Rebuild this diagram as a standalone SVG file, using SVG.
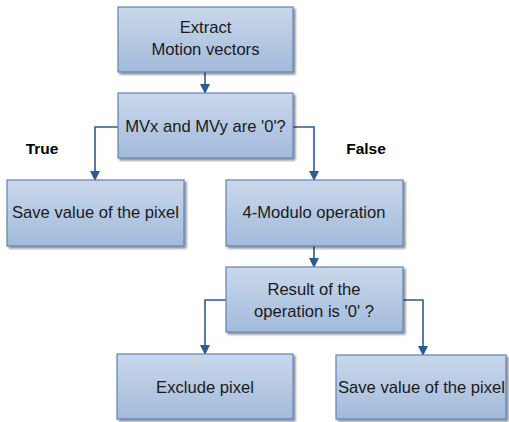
<svg xmlns="http://www.w3.org/2000/svg" width="509" height="422" viewBox="0 0 509 422">
  <defs>
    <linearGradient id="boxFill" x1="0" y1="0" x2="0" y2="1">
      <stop offset="0" stop-color="#cad8eb"/>
      <stop offset="1" stop-color="#a2badb"/>
    </linearGradient>
    <filter id="shadow" x="-10%" y="-10%" width="130%" height="130%">
      <feGaussianBlur in="SourceAlpha" stdDeviation="1"/>
      <feOffset dx="2" dy="2" result="off"/>
      <feComponentTransfer><feFuncA type="linear" slope="0.45"/></feComponentTransfer>
      <feMerge><feMergeNode/><feMergeNode in="SourceGraphic"/></feMerge>
    </filter>
    <marker id="arrow" viewBox="0 0 10 10" refX="9" refY="5" markerWidth="10" markerHeight="10" markerUnits="userSpaceOnUse" orient="auto">
      <path d="M0,0 L10,5 L0,10 z" fill="#2b5b94"/>
    </marker>
  </defs>
  <style>
    .box { fill: url(#boxFill); stroke: #5f83b5; stroke-width: 1.2; filter: url(#shadow); }
    .lbl { font-family: "Liberation Sans", Arial, sans-serif; font-size: 16.6px; fill: #1a1a1a; text-anchor: middle; }
    .side { font-family: "Liberation Sans", Arial, sans-serif; font-size: 15.5px; font-weight: bold; fill: #000; text-anchor: middle; }
    .conn { fill: none; stroke: #2b5b94; stroke-width: 1.6; marker-end: url(#arrow); }
  </style>

  <rect width="509" height="422" fill="#ffffff"/>

  <!-- connectors -->
  <g id="connectors">
    <path class="conn" d="M205,72 V93"/>
    <path class="conn" d="M118,127 H95 V180"/>
    <path class="conn" d="M293,127 H314 V180"/>
    <path class="conn" d="M314,246 V267"/>
    <path class="conn" d="M226,300 H205 V354"/>
    <path class="conn" d="M403,300 H423 V355"/>
  </g>

  <g id="extract">
    <rect class="box" x="118" y="7" width="175" height="65"/>
    <text class="lbl" x="205.5" y="33">Extract</text>
    <text class="lbl" x="205.5" y="55">Motion vectors</text>
  </g>

  <g id="check-mv">
    <rect class="box" x="118" y="93" width="175" height="65"/>
    <text class="lbl" x="205.5" y="132">MVx and MVy are '0'?</text>
  </g>

  <g id="save-left">
    <rect class="box" x="7" y="180" width="177" height="66"/>
    <text class="lbl" x="95.5" y="218">Save value of the pixel</text>
  </g>

  <g id="modulo">
    <rect class="box" x="226" y="180" width="177" height="66"/>
    <text class="lbl" x="314" y="218">4-Modulo operation</text>
  </g>

  <g id="check-result">
    <rect class="box" x="226" y="267" width="177" height="65"/>
    <text class="lbl" x="314" y="295">Result of the</text>
    <text class="lbl" x="314" y="317">operation is '0' ?</text>
  </g>

  <g id="exclude">
    <rect class="box" x="117" y="354" width="176" height="65"/>
    <text class="lbl" x="205" y="393">Exclude pixel</text>
  </g>

  <g id="save-right">
    <rect class="box" x="336" y="355" width="170" height="64"/>
    <text class="lbl" x="421.5" y="393">Save value of the pixel</text>
  </g>

  <g id="branch-labels">
    <text class="side" x="42" y="154">True</text>
    <text class="side" x="366" y="154">False</text>
  </g>
</svg>
